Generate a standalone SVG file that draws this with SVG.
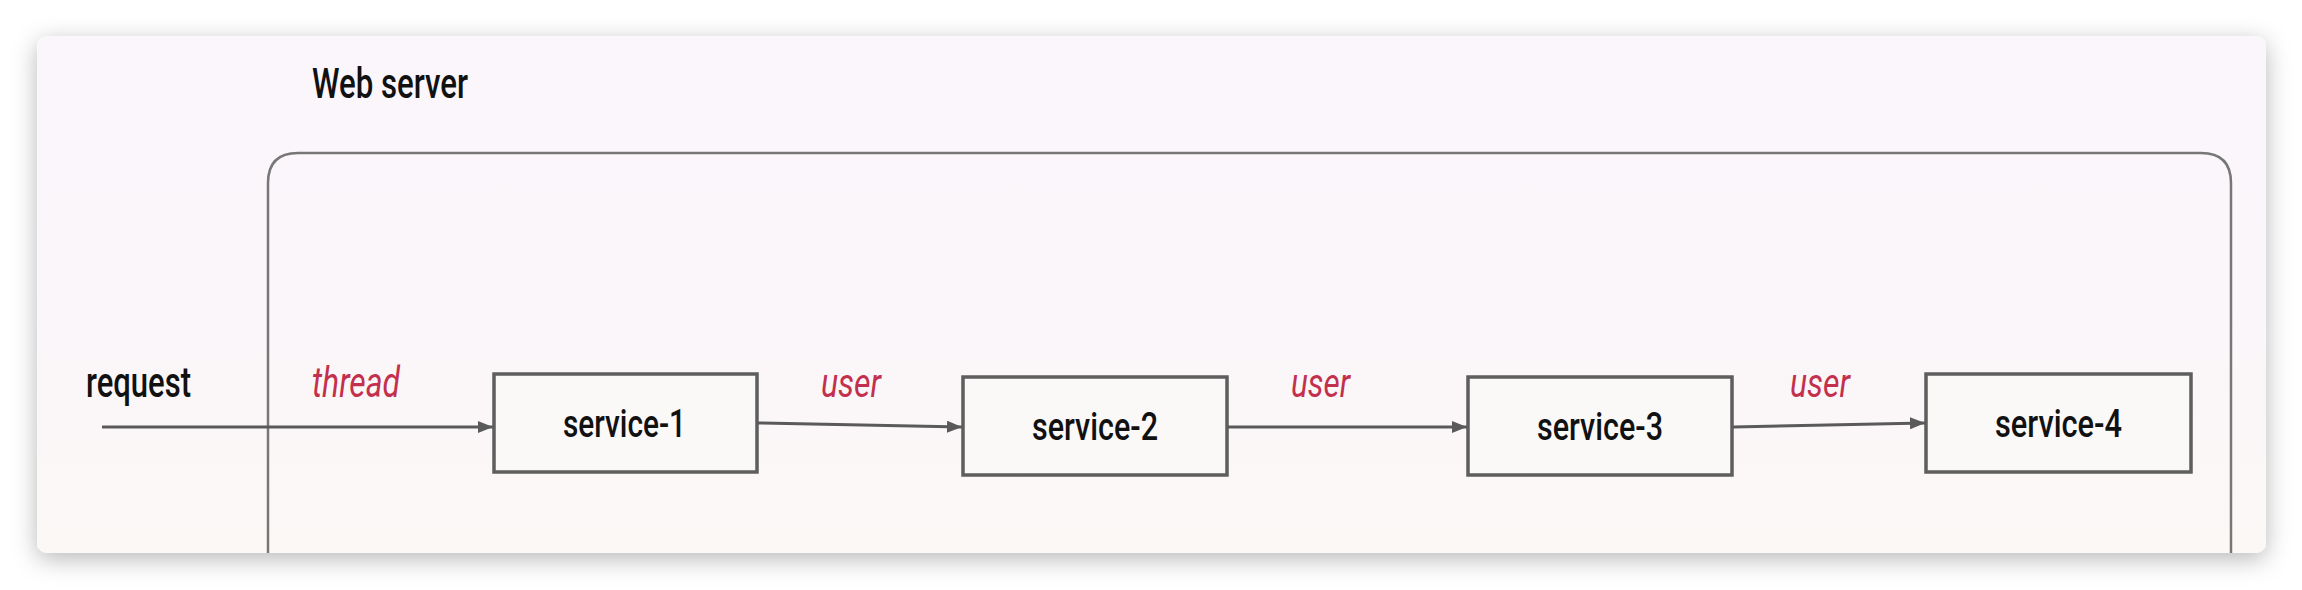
<svg xmlns="http://www.w3.org/2000/svg" width="2302" height="590" viewBox="0 0 2302 590">
  <style>
    .lbl { font-family: Roboto, "Liberation Sans", sans-serif; fill: #111111; font-weight: 500; }
    .red { font-family: Roboto, "Liberation Sans", sans-serif; fill: #c3304d; font-style: italic; }
    .box { fill: #fbf8f8; stroke: #5e5e5e; stroke-width: 3.5; }
    .conn { stroke: #5a5a5a; stroke-width: 3; fill: none; marker-end: url(#arr); }
  </style>
  <defs>
    <filter id="shadow" x="-5%" y="-20%" width="110%" height="140%">
      <feDropShadow dx="0" dy="6" stdDeviation="12" flood-color="#000" flood-opacity="0.28"/>
    </filter>
    <linearGradient id="cardfill" x1="0" y1="0" x2="0" y2="1">
      <stop offset="0" stop-color="#faf6fb"/>
      <stop offset="0.5" stop-color="#faf6fa"/>
      <stop offset="1" stop-color="#fcf8f6"/>
    </linearGradient>
    <marker id="arr" markerUnits="userSpaceOnUse" markerWidth="16" markerHeight="12" refX="15" refY="6" orient="auto">
      <path d="M0,0 L15,6 L0,12 Z" fill="#5a5a5a"/>
    </marker>
  </defs>
  <rect x="0" y="0" width="2302" height="590" fill="#ffffff"/>
  <g id="card">
    <rect x="37" y="36" width="2229" height="517" rx="10" fill="url(#cardfill)" filter="url(#shadow)"/>
  </g>
  <g id="web-server">
    <path d="M268,553 L268,183 Q268,153 298,153 L2201,153 Q2231,153 2231,183 L2231,553" fill="none" stroke="#777777" stroke-width="2.5"/>
    <text class="lbl" x="312" y="98" font-size="43" textLength="156" lengthAdjust="spacingAndGlyphs">Web server</text>
  </g>
  <g id="request-label">
    <text class="lbl" x="86" y="397" font-size="43" textLength="105" lengthAdjust="spacingAndGlyphs">request</text>
  </g>
  <g id="service-1">
    <rect class="box" x="494" y="374" width="263" height="98"/>
    <text class="lbl" x="563" y="437" font-size="38" textLength="123" lengthAdjust="spacingAndGlyphs">service-1</text>
  </g>
  <g id="service-2">
    <rect class="box" x="963" y="377" width="264" height="98"/>
    <text class="lbl" x="1032" y="440" font-size="38" textLength="126" lengthAdjust="spacingAndGlyphs">service-2</text>
  </g>
  <g id="service-3">
    <rect class="box" x="1468" y="377" width="264" height="98"/>
    <text class="lbl" x="1537" y="440" font-size="38" textLength="126" lengthAdjust="spacingAndGlyphs">service-3</text>
  </g>
  <g id="service-4">
    <rect class="box" x="1926" y="374" width="265" height="98"/>
    <text class="lbl" x="1995" y="437" font-size="38" textLength="127" lengthAdjust="spacingAndGlyphs">service-4</text>
  </g>
  <g id="connectors">
    <line class="conn" x1="102" y1="427" x2="493" y2="427"/>
    <line class="conn" x1="758" y1="423" x2="962" y2="427"/>
    <line class="conn" x1="1228" y1="427" x2="1467" y2="427"/>
    <line class="conn" x1="1733" y1="427" x2="1925" y2="423"/>
    <text class="red" x="312" y="397" font-size="43" textLength="88" lengthAdjust="spacingAndGlyphs">thread</text>
    <text class="red" x="821" y="397" font-size="41" textLength="60" lengthAdjust="spacingAndGlyphs">user</text>
    <text class="red" x="1291" y="397" font-size="41" textLength="59" lengthAdjust="spacingAndGlyphs">user</text>
    <text class="red" x="1790" y="397" font-size="41" textLength="60" lengthAdjust="spacingAndGlyphs">user</text>
  </g>
</svg>
